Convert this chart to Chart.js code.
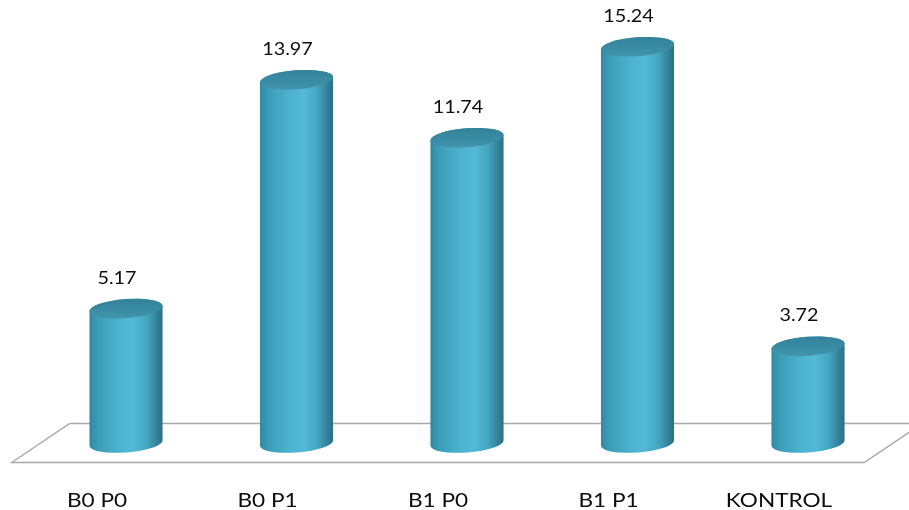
<!DOCTYPE html>
<html>
<head>
<meta charset="utf-8">
<script src="https://cdn.jsdelivr.net/npm/chart.js@4/dist/chart.umd.min.js"></script>
<style>
  html, body { margin: 0; padding: 0; background: #ffffff; }
  #wrap { width: 909px; height: 510px; position: relative; }
</style>
</head>
<body>
<div id="wrap"><canvas id="chart" width="909" height="510"></canvas></div>
<script>
// Treatment groups and their measured values
const categories = ['B0 P0', 'B0 P1', 'B1 P0', 'B1 P1', 'KONTROL'];
const values = [5.17, 13.97, 11.74, 15.24, 3.72];
const valueLabels = ['5.17', '13.97', '11.74', '15.24', '3.72'];

// Depth of the 3D floor (how far the back edge sits up and to the right)
const DEPTH_X = 58;
const DEPTH_Y = 39;

// Floor parallelogram under the cylinders
const floorPlugin = {
  id: 'floor',
  beforeDatasetsDraw(chart) {
    const { ctx, chartArea } = chart;
    const frontY = chartArea.bottom + DEPTH_Y / 2;
    const backY = chartArea.bottom - DEPTH_Y / 2;
    const l = chartArea.left, r = chartArea.right;
    ctx.save();
    ctx.beginPath();
    ctx.moveTo(l, frontY);
    ctx.lineTo(r, frontY);
    ctx.lineTo(r + DEPTH_X, backY);
    ctx.lineTo(l + DEPTH_X, backY);
    ctx.closePath();
    ctx.fillStyle = '#ffffff';
    ctx.fill();
    ctx.strokeStyle = '#a8a8a8';
    ctx.lineWidth = 1.4;
    ctx.stroke();
    ctx.restore();
  }
};

function bodyGradient(ctx, x0, x1) {
  const g = ctx.createLinearGradient(x0, 0, x1, 0);
  g.addColorStop(0.00, '#3189a3');
  g.addColorStop(0.12, '#3c9db8');
  g.addColorStop(0.40, '#4cb2cf');
  g.addColorStop(0.60, '#53b9d6');
  g.addColorStop(0.78, '#45a6c1');
  g.addColorStop(0.92, '#34819a');
  g.addColorStop(1.00, '#2b6f85');
  return g;
}

// Cylinders drawn on top of each (transparent) bar element
const cylinderPlugin = {
  id: 'cylinders',
  afterDatasetsDraw(chart) {
    const { ctx } = chart;
    const meta = chart.getDatasetMeta(0);
    const rot = -0.075;
    meta.data.forEach((bar) => {
      const cx = bar.x + DEPTH_X / 2;
      const rx = bar.width / 2;
      const ry = 9.5;
      const topY = bar.y;
      const baseY = bar.base;
      const dx = rx * Math.cos(rot), dy = rx * Math.sin(rot);

      ctx.save();
      // body
      ctx.beginPath();
      ctx.moveTo(cx + dx, topY + dy);
      ctx.lineTo(cx + dx, baseY + dy);
      ctx.ellipse(cx, baseY, rx, ry, rot, 0, Math.PI, false);
      ctx.lineTo(cx - dx, topY - dy);
      ctx.ellipse(cx, topY, rx, ry, rot, Math.PI, 0, false);
      ctx.closePath();
      ctx.fillStyle = bodyGradient(ctx, cx - rx, cx + rx);
      ctx.fill();

      // top cap
      ctx.beginPath();
      ctx.ellipse(cx, topY, rx, ry, rot, 0, Math.PI * 2);
      const cg = ctx.createLinearGradient(0, topY - ry, 0, topY + ry);
      cg.addColorStop(0, '#33829a');
      cg.addColorStop(0.6, '#3a8ca5');
      cg.addColorStop(1, '#4394ac');
      ctx.fillStyle = cg;
      ctx.fill();
      ctx.restore();
    });
  }
};

// Value labels above each cylinder and category names under the floor
const labelPlugin = {
  id: 'labels',
  afterDraw(chart) {
    const { ctx, chartArea } = chart;
    const meta = chart.getDatasetMeta(0);
    const xScale = chart.scales.x;
    ctx.save();
    ctx.fillStyle = '#0d0d0d';
    ctx.textAlign = 'center';
    ctx.textBaseline = 'alphabetic';
    meta.data.forEach((bar, i) => {
      ctx.save();
      ctx.translate(bar.x + 20, bar.y - 25);
      ctx.scale(1.13, 1);
      ctx.font = '17.5px Lato';
      ctx.fillText(valueLabels[i], 0, 0);
      ctx.restore();
    });
    categories.forEach((name, i) => {
      ctx.save();
      ctx.translate(xScale.getPixelForValue(i), chartArea.bottom + 64);
      ctx.scale(1.13, 1);
      ctx.font = '20px Lato';
      ctx.fillText(name, 0, 0);
      ctx.restore();
    });
    ctx.restore();
  }
};

new Chart(document.getElementById('chart'), {
  type: 'bar',
  data: {
    labels: categories,
    datasets: [{
      data: values,
      backgroundColor: 'rgba(0,0,0,0)',
      borderWidth: 0,
      categoryPercentage: 1,
      barPercentage: 0.43
    }]
  },
  options: {
    responsive: false,
    animation: false,
    events: [],
    layout: { padding: { left: 11.75, right: 44.75, top: 27, bottom: 67 } },
    plugins: { legend: { display: false }, tooltip: { enabled: false } },
    scales: {
      x: { display: false, offset: true },
      y: { display: false, min: 0, max: 16 }
    }
  },
  plugins: [floorPlugin, cylinderPlugin, labelPlugin]
});
</script>
</body>
</html>
